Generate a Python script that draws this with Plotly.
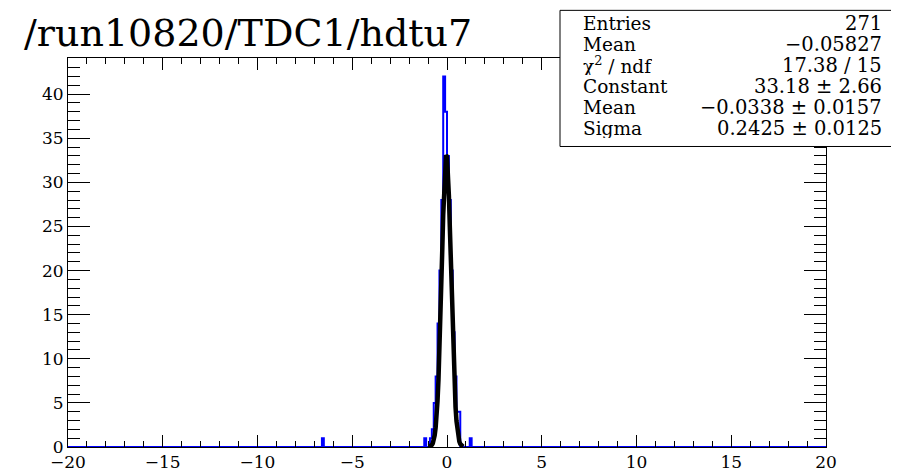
import plotly.graph_objects as go

# ---------------- data ----------------
bin_width = 0.1
x_min, x_max = -20.0, 20.0
# non-empty bins of the histogram (lower edge, count)
bin_low_edges = [-6.6, -1.2, -0.9, -0.8, -0.7, -0.6, -0.5, -0.4, -0.3, -0.2,
                 -0.1, 0.0, 0.1, 0.2, 0.3, 0.4, 0.5, 0.6, 1.2]
bin_counts = [1, 1, 1, 2, 5, 8, 14, 20, 28, 42,
              38, 33, 28, 20, 13, 8, 4, 4, 1]

# gaussian fit curve
fit_x = [-0.95, -0.90, -0.85, -0.80, -0.75, -0.70, -0.65, -0.60, -0.55, -0.50,
         -0.45, -0.40, -0.35, -0.30, -0.25, -0.20, -0.15, -0.10, -0.05, 0.00,
         0.05, 0.10, 0.15, 0.20, 0.25, 0.30, 0.35, 0.40, 0.45, 0.50,
         0.55, 0.60, 0.65, 0.70, 0.75, 0.80, 0.85]
fit_y = [0.03, 0.06, 0.12, 0.23, 0.42, 0.76, 1.32, 2.18, 3.44, 5.23,
         7.62, 10.62, 14.2, 18.2, 22.3, 26.3, 29.6, 32.0, 33.1, 32.9,
         31.3, 28.5, 24.9, 20.8, 16.7, 12.8, 9.47, 6.69, 4.53, 2.94,
         1.83, 1.09, 0.62, 0.34, 0.18, 0.09, 0.04]

title_text = "/run10820/TDC1/hdtu7"
stats_labels = ["Entries", "Mean", "χ<sup>2</sup> / ndf", "Constant", "Mean", "Sigma"]
stats_values = ["271", "−0.05827", "17.38 / 15", "33.18 ± 2.66",
                "−0.0338 ± 0.0157", "0.2425 ± 0.0125"]

# ---------------- build full histogram ----------------
nbins = int(round((x_max - x_min) / bin_width))
counts = [0] * nbins
for e, c in zip(bin_low_edges, bin_counts):
    counts[int(round((e - x_min) / bin_width))] = c
edges = [x_min + i * bin_width for i in range(nbins + 1)]
step_y = counts + [counts[-1]]

FONT = "DejaVu Serif"

fig = go.Figure()
fig.add_trace(go.Scatter(x=edges, y=step_y, mode="lines", line_shape="hv",
                         line=dict(color="#0000ff", width=2), hoverinfo="skip",
                         showlegend=False))
fig.add_trace(go.Scatter(x=fit_x, y=fit_y, mode="lines",
                         line=dict(color="black", width=4.5), showlegend=False))

L, R, T, B = 60, 818, 50, 450
W, H = 899, 476

axis_common = dict(showgrid=False, zeroline=False, showline=True, linecolor="black",
                   linewidth=1, mirror="ticks", ticks="inside", tickcolor="black",
                   tickwidth=1, tickfont=dict(family=FONT, size=17, color="black"))

fig.update_xaxes(range=[x_min, x_max], tick0=-20, dtick=5, ticklen=12,
                 minor=dict(dtick=1, ticklen=6, ticks="inside", tickcolor="black"),
                 **axis_common)
fig.update_yaxes(range=[0, 44.1], tick0=0, dtick=5, ticklen=22,
                 minor=dict(dtick=1, ticklen=12, ticks="inside", tickcolor="black"),
                 **axis_common)


def px2paper_x(px):
    return (px - L) / (R - L)


def px2paper_y(py):
    return (B - py) / (B - T)


shapes = [dict(type="rect", xref="paper", yref="paper",
               x0=px2paper_x(552), x1=px2paper_x(893),
               y0=px2paper_y(141), y1=px2paper_y(1),
               line=dict(color="black", width=1), fillcolor="white", layer="above")]

annotations = []
row_y = [14, 35.5, 57, 78.5, 100, 121.5]
for lab, val, yy in zip(stats_labels, stats_values, row_y):
    annotations.append(dict(xref="paper", yref="paper", x=px2paper_x(573), y=px2paper_y(yy),
                            text=lab, showarrow=False, xanchor="left", yanchor="middle",
                            height=20, font=dict(family=FONT, size=18.5, color="black")))
    annotations.append(dict(xref="paper", yref="paper", x=px2paper_x(876), y=px2paper_y(yy),
                            text=val, showarrow=False, xanchor="right", yanchor="middle",
                            height=20, font=dict(family=FONT, size=19.5, color="black")))

fig.update_layout(
    width=W, height=H,
    margin=dict(l=L, r=W - R, t=T, b=H - B),
    paper_bgcolor="white", plot_bgcolor="white",
    title=dict(text=title_text, x=16 / W, y=1 - 25 / H, xanchor="left", yanchor="middle",
               xref="container", yref="container",
               font=dict(family=FONT, size=38, color="black")),
    shapes=shapes, annotations=annotations,
)

fig.write_html("out.html")
